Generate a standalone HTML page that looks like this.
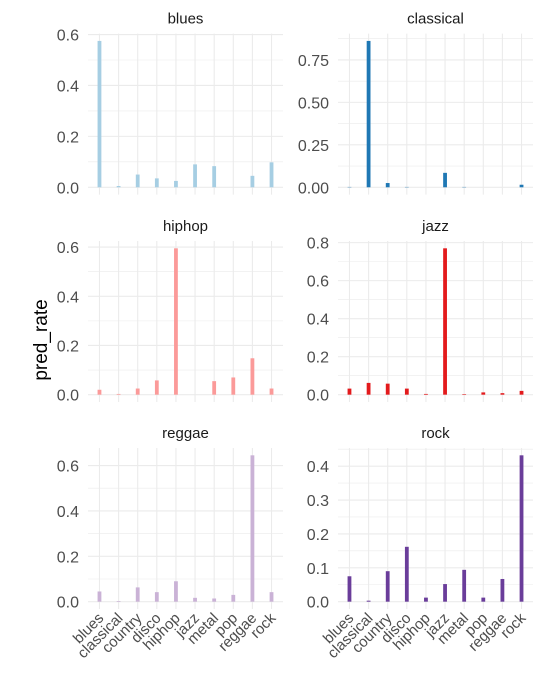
<!DOCTYPE html>
<html><head><meta charset="utf-8"><style>
body{margin:0;background:#fff;}
svg{display:block;font-family:"Liberation Sans",Arial,sans-serif;}
</style></head><body>
<svg id="chart" width="541" height="673">
<text transform="translate(47,340) rotate(-90)" text-anchor="middle" font-size="19" fill="#000">pred_rate</text>
</svg>
<script>
const categories=["blues","classical","country","disco","hiphop","jazz","metal","pop","reggae","rock"];
const facetNames=["blues","classical","hiphop","jazz","reggae","rock"];
const facetColors=["#a6cee3","#1f78b4","#fb9a99","#e31a1c","#cab2d6","#6a3d9a"];
const bluesValues=[0.575,0.005,0.05,0.035,0.025,0.09,0.083,0,0.045,0.098];
const classicalValues=[0.002,0.862,0.025,0.002,0,0.085,0.002,0,0,0.015];
const hiphopValues=[0.02,0.003,0.025,0.058,0.595,0,0.055,0.07,0.148,0.025];
const jazzValues=[0.032,0.062,0.058,0.032,0.004,0.77,0.003,0.012,0.008,0.02];
const reggaeValues=[0.045,0.003,0.063,0.042,0.09,0.017,0.014,0.03,0.645,0.042];
const rockValues=[0.075,0.003,0.09,0.162,0.012,0.052,0.094,0.012,0.067,0.432];
const bluesTicks=[0,0.2,0.4,0.6];
const classicalTicks=[0,0.25,0.5,0.75];
const hiphopTicks=[0,0.2,0.4,0.6];
const jazzTicks=[0,0.2,0.4,0.6,0.8];
const reggaeTicks=[0,0.2,0.4,0.6];
const rockTicks=[0,0.1,0.2,0.3,0.4];
const bluesLabels=["0.0","0.2","0.4","0.6"];
const classicalLabels=["0.00","0.25","0.50","0.75"];
const hiphopLabels=["0.0","0.2","0.4","0.6"];
const jazzLabels=["0.0","0.2","0.4","0.6","0.8"];
const reggaeLabels=["0.0","0.2","0.4","0.6"];
const rockLabels=["0.0","0.1","0.2","0.3","0.4"];

const allValues=[bluesValues,classicalValues,hiphopValues,jazzValues,reggaeValues,rockValues];
const allTicks=[bluesTicks,classicalTicks,hiphopTicks,jazzTicks,reggaeTicks,rockTicks];
const allLabels=[bluesLabels,classicalLabels,hiphopLabels,jazzLabels,reggaeLabels,rockLabels];

const svg=document.getElementById('chart');
const NS='http://www.w3.org/2000/svg';
function mk(tag,attrs,parent){const e=document.createElementNS(NS,tag);for(const k in attrs)e.setAttribute(k,attrs[k]);(parent||svg).appendChild(e);return e;}
const colX=[88,338], panelW=195, rowTop=[33.6,241,448], panelH=161;

facetNames.forEach((name,fi)=>{
  const col=fi%2,row=Math.floor(fi/2);
  const x0=colX[col],y0=rowTop[row];
  const vals=allValues[fi],ticks=allTicks[fi],labels=allLabels[fi];
  const g=mk('g',{});
  
  
  const vmax=Math.max(...vals);
  const lo=-0.05*vmax,hi=vmax*1.05;
  const y=v=>y0+panelH-(v-lo)/(hi-lo)*panelH;
  const xn=categories.length;
  const x=i=>x0+panelW*(0.6+i)/(xn+0.2);
  const step=ticks[1]-ticks[0];
  for(let m=ticks[0]-step/2;m<=hi;m+=step){
    if(m<lo)continue;
    const l=mk('line',{x1:x0,x2:x0+panelW,y1:y(m),y2:y(m),stroke:'#ebebeb','stroke-width':0.6},g);
    
    
  }
  ticks.forEach((t,ti)=>{
    const l=mk('line',{x1:x0,x2:x0+panelW,y1:y(t),y2:y(t),stroke:'#ebebeb','stroke-width':1.1},g);
    
    
    const tx=mk('text',{x:x0-9,y:y(t)+6,'text-anchor':'end','font-size':16,fill:'#4d4d4d'},g);
    tx.textContent=labels[ti];
    
    
  });
  categories.forEach((c,i)=>{
    const l=mk('line',{x1:x(i),x2:x(i),y1:y0,y2:y0+panelH,stroke:'#ebebeb','stroke-width':1.1},g);
    
    
  });
  vals.forEach((v,i)=>{
    const bw=3.8;
    const r=mk('rect',{x:x(i)-bw/2,y:y(v),width:bw,height:Math.max(0,y(0)-y(v)),fill:facetColors[fi]},g);
    
    
  });
  const title=mk('text',{x:x0+panelW/2,y:y0-10,'text-anchor':'middle','font-size':15,fill:'#1a1a1a'},g);
  title.textContent=name;
  
  
  if(row===2){
    categories.forEach((c,i)=>{
      const tx=mk('text',{transform:`translate(${x(i)+5},${y0+panelH+10}) rotate(-45)`,'text-anchor':'end','font-size':15,fill:'#4d4d4d'},g);
      tx.textContent=c;
      
      
    });
  }
});
</script>
</body></html>
